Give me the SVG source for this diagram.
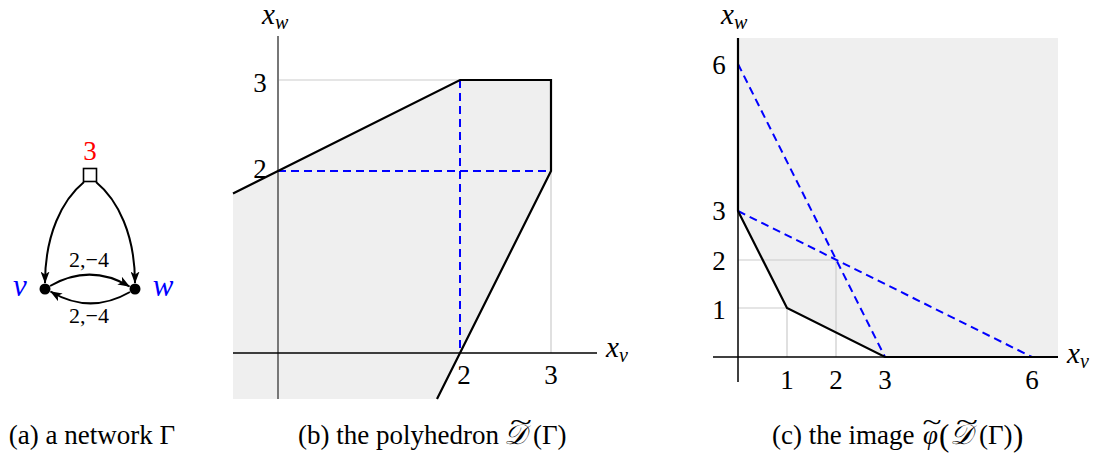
<svg xmlns="http://www.w3.org/2000/svg" width="1099" height="455" viewBox="0 0 1099 455">
<style>
text{font-family:"Liberation Serif","DejaVu Serif",serif;fill:#000}
.cap{font-size:27px}
.big{font-size:31px}
.scr{font-size:28px;font-style:italic}
.num{font-size:27px}
.mi{font-style:italic;font-size:29px}
.sub{font-style:italic;font-size:20px}
.lbl{font-size:22px}
.fill{fill:#efefef;stroke:none}
.grid{stroke:#cccccc;stroke-width:1.2;fill:none}
.axis{stroke:#000;stroke-width:1.5;fill:none}
.yaxis{stroke:#777;stroke-width:2;fill:none}
.bound{stroke:#000;stroke-width:2.2;fill:none;stroke-linejoin:miter}
.dash{stroke:#0000ff;stroke-width:2;stroke-dasharray:8 5;fill:none}
.edge{stroke:#000;stroke-width:2;fill:none;marker-end:url(#ah)}
</style>
<defs>
<marker id="ah" viewBox="0 0 12 9" refX="11.5" refY="4.5" markerWidth="12" markerHeight="9" markerUnits="userSpaceOnUse" orient="auto">
<path d="M0,0 L12,4.5 L0,9 L3,4.5 z" fill="#000"/>
</marker>
</defs>
<rect width="1099" height="455" fill="#fff"/>

<!-- Panel (a): network -->
<g id="panel-a">
<g id="node-source">
<rect x="83.5" y="168.5" width="13" height="13" fill="#fff" stroke="#000" stroke-width="1.6"/>
<text x="90" y="160" class="num" text-anchor="middle" style="fill:#ff0000">3</text>
</g>
<g id="node-v">
<circle cx="45" cy="289" r="5.5" fill="#000"/>
<text x="20" y="296" class="mi" text-anchor="middle" style="fill:#0000ff;font-size:31px">v</text>
</g>
<g id="node-w">
<circle cx="135" cy="289" r="5.5" fill="#000"/>
<text x="163" y="296" class="mi" text-anchor="middle" style="fill:#0000ff;font-size:31px">w</text>
</g>
<g id="connectors-a">
<path class="edge" d="M84,182 C62,200 45,235 45,283"/>
<path class="edge" d="M96,182 C118,200 135,235 135,283"/>
<path class="edge" d="M50,286 Q90,263 129.5,286.5"/>
<path class="edge" d="M130,292 Q90,315 50.5,291.5"/>
<text x="89" y="267" class="lbl" text-anchor="middle">2,−4</text>
<text x="89" y="323" class="lbl" text-anchor="middle">2,−4</text>
</g>
<text x="175" y="444" class="cap" text-anchor="end">(a) a network Γ</text>
</g>

<!-- Panel (b): polyhedron -->
<g id="panel-b">
<path class="fill" d="M233,193.5 L278,171 L460,80 L551,80 L551,171 L437,399 L233,399 Z"/>
<line class="grid" x1="278" y1="80" x2="460" y2="80"/>
<line class="grid" x1="551" y1="80" x2="551" y2="353"/>
<line class="yaxis" x1="278" y1="36" x2="278" y2="399"/>
<line class="axis" x1="233" y1="353" x2="597" y2="353"/>
<line class="dash" x1="278" y1="171" x2="551" y2="171"/>
<line class="dash" x1="460" y1="80" x2="460" y2="353"/>
<path class="bound" d="M233,193.5 L460,80 L551,80 L551,171 L437,399"/>
<text x="262" y="24" class="mi">x<tspan class="sub" dy="5">w</tspan></text>
<text x="606" y="357" class="mi">x<tspan class="sub" dy="5">v</tspan></text>
<text x="260" y="92" class="num" text-anchor="middle">3</text>
<text x="260" y="178" class="num" text-anchor="middle">2</text>
<text x="464" y="384" class="num" text-anchor="middle">2</text>
<text x="551" y="384" class="num" text-anchor="middle">3</text>
<text x="298" y="444" class="cap">(b) the polyhedron</text>
<text x="504" y="444" class="scr">𝒟</text>
<text transform="translate(521,431) scale(1.5,1)" class="cap" text-anchor="middle">~</text>
<text x="533" y="444" class="cap">(Γ)</text>
</g>

<!-- Panel (c): image -->
<g id="panel-c">
<path class="fill" d="M738,38 H1058 V357 H885 L787,308 L738,211 Z"/>
<line class="grid" x1="738" y1="308" x2="787" y2="308"/>
<line class="grid" x1="787" y1="308" x2="787" y2="357"/>
<line class="grid" x1="738" y1="260" x2="836" y2="260"/>
<line class="grid" x1="836" y1="260" x2="836" y2="357"/>
<line class="axis" x1="738" y1="211" x2="738" y2="382"/>
<line class="axis" x1="713" y1="357" x2="885" y2="357"/>
<line class="dash" x1="738" y1="64" x2="885" y2="357"/>
<line class="dash" x1="738" y1="211" x2="1032" y2="357"/>
<path class="bound" d="M738,38 L738,211 L787,308 L885,357 L1058,357"/>
<text x="721" y="24" class="mi">x<tspan class="sub" dy="5">w</tspan></text>
<text x="1067" y="363" class="mi">x<tspan class="sub" dy="5">v</tspan></text>
<text x="719" y="74" class="num" text-anchor="middle">6</text>
<text x="719" y="220" class="num" text-anchor="middle">3</text>
<text x="719" y="270" class="num" text-anchor="middle">2</text>
<text x="719" y="319" class="num" text-anchor="middle">1</text>
<text x="787" y="389" class="num" text-anchor="middle">1</text>
<text x="836" y="389" class="num" text-anchor="middle">2</text>
<text x="885" y="389" class="num" text-anchor="middle">3</text>
<text x="1032" y="389" class="num" text-anchor="middle">6</text>
<text x="772" y="444" class="cap">(c) the image</text>
<text x="923" y="444" class="cap" font-style="italic">φ</text>
<text transform="translate(932,431) scale(1.3,1)" class="cap" text-anchor="middle">~</text>
<text x="939" y="446" class="big">(</text>
<text x="950" y="444" class="scr">𝒟</text>
<text transform="translate(967,431) scale(1.5,1)" class="cap" text-anchor="middle">~</text>
<text x="979" y="444" class="cap">(Γ)</text>
<text x="1013" y="446" class="big">)</text>
</g>
</svg>
